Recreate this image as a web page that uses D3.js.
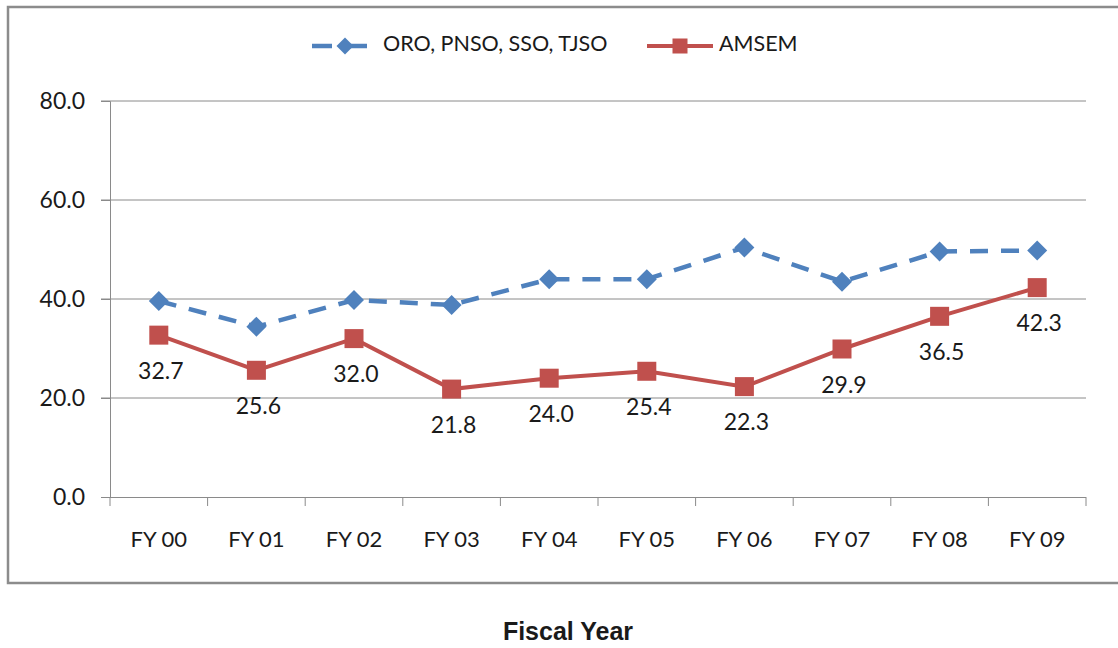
<!DOCTYPE html>
<html>
<head>
<meta charset="utf-8">
<script src="https://cdn.jsdelivr.net/npm/d3@7"></script>
<style>
  html, body { margin: 0; padding: 0; background: #fff; }
  svg { display: block; }
  text { font-family: Lato, "Open Sans", sans-serif; fill: #1a1a1a; }
</style>
</head>
<body>
<svg id="chart" width="1118" height="648"></svg>
<script>
const categories = ["FY 00","FY 01","FY 02","FY 03","FY 04","FY 05","FY 06","FY 07","FY 08","FY 09"];
const seriesNames = ["ORO, PNSO, SSO, TJSO", "AMSEM"];
const groupValues = [39.6, 34.4, 39.8, 38.8, 44.0, 44.0, 50.4, 43.5, 49.6, 49.8];
const amsemValues = [32.7, 25.6, 32.0, 21.8, 24.0, 25.4, 22.3, 29.9, 36.5, 42.3];
const yTicks = [0, 20, 40, 60, 80];
const xTitle = "Fiscal Year";

(function () {
const blue = "#4F81BD", red = "#C0504D", grid = "#8a8a8a";
const svg = d3.select("#chart");

// outer frame
svg.append("rect").attr("x", 8).attr("y", 7).attr("width", 1200).attr("height", 576)
  .attr("fill", "none").attr("stroke", "#8c8c8c").attr("stroke-width", 2.5);

const pLeft = 110, pRight = 1086, pTop = 101, pBottom = 497;
const x = d3.scaleBand().domain(categories).range([pLeft, pRight]).padding(0);
const y = d3.scaleLinear().domain([0, 80]).range([pBottom, pTop]);
const cx = c => x(c) + x.bandwidth() / 2;

// gridlines
svg.append("g").selectAll("line").data(yTicks.filter(t => t > 0)).join("line")
  .attr("x1", pLeft - 9).attr("x2", pRight)
  .attr("y1", d => y(d)).attr("y2", d => y(d))
  .attr("stroke", grid).attr("stroke-width", 1);

// y axis
const yAxis = svg.append("g").attr("transform", `translate(${pLeft},0)`)
  .call(d3.axisLeft(y).tickValues(yTicks).tickFormat(d3.format(".1f")).tickSize(9).tickPadding(16));
yAxis.select(".domain").attr("stroke", grid);
yAxis.selectAll(".tick line").attr("stroke", grid);
yAxis.selectAll("text").style("font-size", "23px").style("font-family", "Lato, sans-serif").attr("fill", "#1a1a1a");

// x axis
const xAxis = svg.append("g").attr("transform", `translate(0,${pBottom})`)
  .call(d3.axisBottom(x).tickSize(0).tickPadding(34));
xAxis.select(".domain").attr("stroke", grid).attr("d", `M${pLeft - 9},0.5H${pRight}`);
xAxis.selectAll("text").style("font-size", "22px").style("font-family", "Lato, sans-serif").attr("fill", "#1a1a1a");
const bounds = categories.map(c => x(c)).concat([x.range()[1]]);
xAxis.append("g").selectAll("line").data(bounds).join("line")
  .attr("x1", d => d).attr("x2", d => d).attr("y1", 0).attr("y2", 9)
  .attr("stroke", grid);

// lines
const line = d3.line().x(d => cx(d.c)).y(d => y(d.v));
const gData = categories.map((c, i) => ({c, v: groupValues[i]}));
const aData = categories.map((c, i) => ({c, v: amsemValues[i]}));

svg.append("path").datum(gData).attr("d", line)
  .attr("fill", "none").attr("stroke", blue).attr("stroke-width", 4.5)
  .attr("stroke-dasharray", "18,13");
svg.append("g").selectAll("path").data(gData).join("path")
  .attr("transform", d => `translate(${cx(d.c)},${y(d.v)})`)
  .attr("d", "M0,-10L10,0L0,10L-10,0Z").attr("fill", blue);

svg.append("path").datum(aData).attr("d", line)
  .attr("fill", "none").attr("stroke", red).attr("stroke-width", 4);
svg.append("g").selectAll("rect").data(aData).join("rect")
  .attr("x", d => cx(d.c) - 9.5).attr("y", d => y(d.v) - 9.5)
  .attr("width", 19).attr("height", 19).attr("fill", red);

// data labels
svg.append("g").selectAll("text").data(aData).join("text")
  .attr("x", d => cx(d.c) + 2).attr("y", d => y(d.v) + 38)
  .attr("text-anchor", "middle").attr("dominant-baseline", "middle")
  .style("font-size", "23px")
  .text(d => d.v.toFixed(1));

// legend
const lg = svg.append("g");
lg.append("line").attr("x1", 312).attr("x2", 378).attr("y1", 46).attr("y2", 46)
  .attr("stroke", blue).attr("stroke-width", 4.5).attr("stroke-dasharray", "20,15");
lg.append("path").attr("transform", "translate(345,46)").attr("d", "M0,-8.5L8.5,0L0,8.5L-8.5,0Z").attr("fill", blue);
lg.append("text").attr("x", 383).attr("y", 46).attr("dominant-baseline", "middle")
  .style("font-size", "21.5px").text(seriesNames[0]);
lg.append("line").attr("x1", 647).attr("x2", 713).attr("y1", 46).attr("y2", 46)
  .attr("stroke", red).attr("stroke-width", 4);
lg.append("rect").attr("x", 672.5).attr("y", 38.5).attr("width", 15).attr("height", 15).attr("fill", red);
lg.append("text").attr("x", 719).attr("y", 46).attr("dominant-baseline", "middle")
  .style("font-size", "21.5px").text(seriesNames[1]);

// axis title
svg.append("text").attr("x", 568).attr("y", 640).attr("text-anchor", "middle")
  .style("font-family", "'Liberation Sans', Arial, sans-serif").style("font-weight", "bold")
  .style("font-size", "25px").attr("fill", "#000").text(xTitle);
})();
</script>
</body>
</html>
